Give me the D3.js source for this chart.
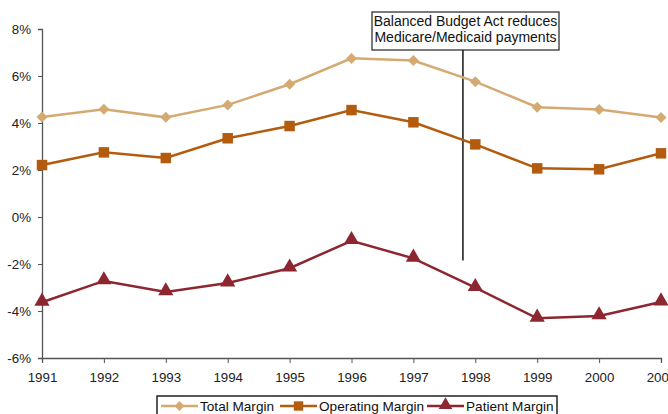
<!DOCTYPE html>
<html><head><meta charset="utf-8">
<script src="https://cdn.jsdelivr.net/npm/d3@7"></script>
<style>
html,body{margin:0;padding:0;background:#fff;overflow:hidden}
svg{display:block;font-family:"Liberation Sans",Arial,sans-serif}
</style></head><body>
<svg id="chart" width="668" height="414"></svg>
<script>
const years = [1991,1992,1993,1994,1995,1996,1997,1998,1999,2000,2001];
const totalMargin = [4.26,4.58,4.24,4.77,5.65,6.75,6.66,5.76,4.67,4.57,4.23];
const operatingMargin = [2.21,2.75,2.51,3.35,3.87,4.55,4.03,3.09,2.07,2.03,2.71];
const patientMargin = [-3.63,-2.72,-3.19,-2.81,-2.18,-1.01,-1.76,-3.01,-4.31,-4.21,-3.62];
const yTicks = [-6,-4,-2,0,2,4,6,8];
const seriesNames = ["Total Margin","Operating Margin","Patient Margin"];
const seriesColors = ["#D4AA72","#B35C0F","#8C2630"];
const annotationYear = 1997.8;
const annotationLines = ["Balanced Budget Act reduces","Medicare/Medicaid payments"];

const svg = d3.select("#chart");
const x = d3.scaleLinear().domain([1991,2001]).range([42,661]);
const y = d3.scaleLinear().domain([-6,8]).range([358,29]);

// custom marker shapes
const diamond = {draw(ctx,size){const r=Math.sqrt(size)/2*1.1;ctx.moveTo(0,-r);ctx.lineTo(r,0);ctx.lineTo(0,r);ctx.lineTo(-r,0);ctx.closePath();}};
const seriesSymbols = [diamond, d3.symbolSquare, d3.symbolTriangle];
const sizes = [100,110,100];

// axes
const yAxis = d3.axisLeft(y).tickValues(yTicks).tickFormat(d=>d+"%").tickSize(4).tickPadding(7);
const gy = svg.append("g").attr("transform","translate(42,0)").call(yAxis);
const xAxis = d3.axisBottom(x).tickValues(years).tickFormat(d3.format("d")).tickSize(5).tickPadding(10);
const gx = svg.append("g").attr("transform","translate(0,358)").call(xAxis);
[gx,gy].forEach(g=>{
  g.select(".domain").attr("stroke","#555").attr("stroke-width",1.3);
  g.selectAll(".tick line").attr("stroke","#555");
  g.selectAll(".tick text").attr("fill","#222").style("font-size","13.3px").style("font-family","'Liberation Sans',Arial,sans-serif");
});
gy.selectAll(".tick text").attr("dy","0.35em");

// annotation line
const ax = x(annotationYear);
svg.append("line").attr("x1",ax).attr("x2",ax).attr("y1",50).attr("y2",y(-1.85))
  .attr("stroke","#222").attr("stroke-width",1.6);

const data = [totalMargin, operatingMargin, patientMargin];
const line = d3.line().x((d,i)=>x(years[i])).y(d=>y(d));
data.forEach((vals,k)=>{
  const g = svg.append("g");
  g.append("path").datum(vals).attr("d",line).attr("fill","none")
    .attr("stroke",seriesColors[k]).attr("stroke-width",2.5);
  g.selectAll("path.m").data(vals).join("path").attr("class","m")
    .attr("transform",(d,i)=>`translate(${x(years[i])},${y(d)+(k===2?-1:0)})`)
    .attr("d",d3.symbol().type(seriesSymbols[k]).size(sizes[k]))
    .attr("fill",seriesColors[k]);
});

// annotation box
svg.append("rect").attr("x",372).attr("y",12).attr("width",187).attr("height",38)
  .attr("fill","#fff").attr("stroke","#222").attr("stroke-width",1.2);
svg.append("text").attr("x",465.5).attr("y",26).attr("text-anchor","middle")
  .attr("fill","#111").style("font-size","14px")
  .selectAll("tspan").data(annotationLines).join("tspan")
  .attr("x",465.5).attr("dy",(d,i)=>i?16:0).text(d=>d);

// legend
svg.append("rect").attr("x",157).attr("y",396).attr("width",400).attr("height",30)
  .attr("fill","#fff").attr("stroke","#222").attr("stroke-width",1.5);
const legendX = [161,280,427];
seriesNames.forEach((n,k)=>{
  const lx = legendX[k];
  svg.append("line").attr("x1",lx).attr("x2",lx+37).attr("y1",406).attr("y2",406)
    .attr("stroke",seriesColors[k]).attr("stroke-width",2.5);
  svg.append("path").attr("transform",`translate(${lx+18.5},${406+(k===2?-1:0)})`)
    .attr("d",d3.symbol().type(seriesSymbols[k]).size(sizes[k]*0.8)).attr("fill",seriesColors[k]);
  svg.append("text").attr("x",lx+39).attr("y",411).attr("fill","#111").style("font-size","13.6px").text(n);
});
</script>
</body></html>
